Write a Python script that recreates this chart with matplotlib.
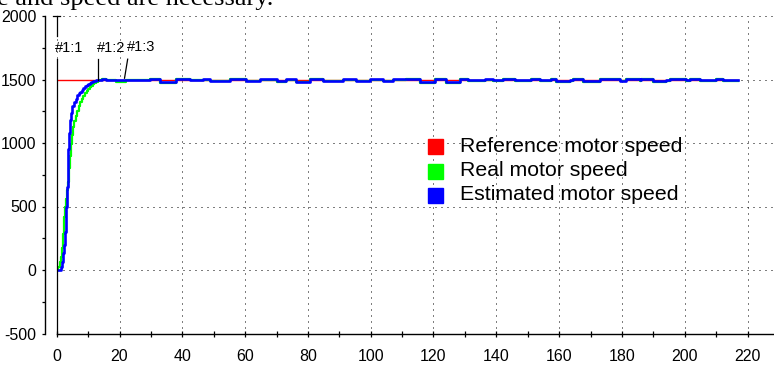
import matplotlib
matplotlib.use("Agg")
import matplotlib.pyplot as plt
from matplotlib.patches import Rectangle
from matplotlib.ticker import MultipleLocator

plt.rcParams["axes.unicode_minus"] = False

# series names for the legend
series_names = ["Reference motor speed", "Real motor speed", "Estimated motor speed"]
series_colors = ["#ff0000", "#00ff00", "#0000ff"]

# reference speed
ref_t = [0, 217]
ref_v = [1500, 1500]

# start-up of the estimated speed (blue)
est_rise_t = [0, 1, 1.3, 1.7, 2, 2.3, 2.6, 2.9, 3.1, 3.3, 3.5, 3.7, 3.9, 4.2, 4.5,
              5, 5.5, 6, 6.5, 7, 7.5, 8, 8.5, 9, 9.5, 10, 10.5, 11, 11.5, 12, 12.5, 13]
est_rise_v = [0, 0, 20, 60, 130, 200, 300, 420, 500, 650, 800, 950, 1080, 1180, 1240,
              1290, 1325, 1350, 1375, 1390, 1405, 1420, 1432, 1445, 1455, 1466, 1473,
              1480, 1486, 1492, 1496, 1500]

# start-up of the real speed (green)
real_rise_t = [0, 0.5, 1, 1.5, 1.8, 2.1, 2.4, 2.7, 3, 3.3, 3.6, 3.9, 4.2, 4.5, 4.8,
               5.2, 5.6, 6, 6.5, 7, 7.5, 8, 8.5, 9, 9.5, 10, 10.5, 11, 11.5, 12,
               12.5, 13, 13.5, 14]
real_rise_v = [0, 25, 60, 105, 170, 280, 420, 500, 560, 630, 690, 800, 900, 990, 1060,
               1125, 1170, 1210, 1250, 1290, 1320, 1345, 1370, 1390, 1408, 1425, 1438,
               1450, 1462, 1472, 1482, 1490, 1496, 1500]

# steady state, breakpoints and levels
ss_t = [14.3, 15.8, 19.0, 22.2, 29.6, 32.8, 38.1, 42.3, 46.6, 48.7,
        55.1, 60.4, 64.6, 70.0, 73.1, 76.3, 80.6, 84.8, 91.2, 95.4,
        99.7, 103.9, 107.1, 111.3, 115.6, 120.4, 124.1, 128.3, 131.0, 136.3,
        139.0, 142.1, 145.8, 151.2, 153.8, 157.5, 159.1, 163.4, 164.4, 167.6,
        173.0, 179.3, 181.4, 185.7, 186.2, 189.9, 194.2, 195.2, 200.5, 201.6,
        204.8, 210.1, 212.2, 217.0]
est_ss_v = [1506, 1496, 1494, 1496, 1506, 1484, 1506, 1496, 1504, 1490,
            1506, 1492, 1504, 1486, 1504, 1484, 1506, 1492, 1504, 1492,
            1504, 1490, 1504, 1506, 1480, 1506, 1482, 1506, 1496, 1502,
            1496, 1506, 1496, 1506, 1496, 1506, 1490, 1496, 1506, 1490,
            1506, 1490, 1506, 1496, 1506, 1486, 1496, 1506, 1496, 1506,
            1496, 1506, 1496, 1496]
real_ss_v = [1502, 1494, 1484, 1494, 1502, 1476, 1502, 1494, 1500, 1486,
             1502, 1486, 1500, 1480, 1500, 1478, 1502, 1488, 1500, 1488,
             1500, 1486, 1500, 1502, 1474, 1502, 1476, 1502, 1492, 1498,
             1492, 1502, 1492, 1502, 1492, 1502, 1482, 1492, 1502, 1480,
             1502, 1486, 1502, 1492, 1502, 1480, 1492, 1502, 1492, 1502,
             1492, 1502, 1492, 1492]

x_ticks = list(range(0, 221, 20))
y_ticks = [-500, 0, 500, 1000, 1500, 2000]

W, H = 774, 365


def fx(x):
    return x / W


def fy(y):
    return 1 - y / H


fig = plt.figure(figsize=(W / 100, H / 100), dpi=100)
ax = fig.add_axes([fx(56.7), fy(333.5), fx(W - 56.7), (333.5 - 16) / H])

tick_family = ["Liberation Sans Narrow", "Liberation Sans"]

dots = (0, (1, 5))
ax.grid(True, which="major", color="black", linestyle=dots, linewidth=0.72)
ax.set_axisbelow(True)

ax.plot(ref_t, ref_v, color=series_colors[0], lw=1.0, zorder=3)
ax.plot(real_rise_t + ss_t, real_rise_v + real_ss_v, color=series_colors[1],
        lw=1.6, drawstyle="steps-post", zorder=4)
ax.plot(est_rise_t + ss_t, est_rise_v + est_ss_v, color=series_colors[2],
        lw=1.9, drawstyle="steps-post", zorder=5)

# cursors
cur = dict(color="black", lw=0.9, zorder=6, clip_on=False)
ax.plot([0, 0], [2000, 1845], **cur)
ax.plot([-1.1, 1.1], [2000, 2000], **cur)
ax.plot([0, 0], [1664, -500], **cur)
ax.plot([13.2, 13.2], [1664, 1500], **cur)
ax.plot([22.6, 21.6], [1660, 1510], **cur)
lab = dict(fontsize=10.5, family="Liberation Sans", va="center", ha="left", zorder=7)
ax.text(-0.5, 1745, "#1:1", **lab)
ax.text(12.7, 1745, "#1:2", **lab)
ax.text(22.4, 1758, "#1:3", **lab)

ax.set_xlim(0, (W - 56.7) / 3.14)
ax.set_ylim(-500, 2000)
ax.set_xticks(x_ticks)
ax.set_yticks(y_ticks)
ax.xaxis.set_minor_locator(MultipleLocator(10))
ax.yaxis.set_minor_locator(MultipleLocator(250))

for s in ["top", "right"]:
    ax.spines[s].set_visible(False)
ax.spines["left"].set_position(("outward", 8.4))
ax.spines["left"].set_linewidth(1.0)
ax.spines["bottom"].set_linewidth(1.0)

ax.tick_params(axis="x", which="both", direction="inout", length=5, width=0.9, pad=9)
ax.tick_params(axis="y", which="both", direction="out", length=2.4, width=0.9, pad=3.6)
for t in ax.get_xticklabels() + ax.get_yticklabels():
    t.set_fontfamily(tick_family)
    t.set_fontsize(11.5)

# legend drawn by hand
rows = [146.7, 171, 195]
for name, col, yc in zip(series_names, series_colors, rows):
    fig.patches.append(Rectangle((fx(428), fy(yc + 7.5)), 15 / W, 15 / H,
                                 transform=fig.transFigure, color=col, zorder=8))
    fig.text(fx(460), fy(yc), name, fontsize=15.3, family="Liberation Sans",
             va="center", ha="left", zorder=8)

# clipped document text above the chart
fig.text(fx(-3), fy(5), "e and speed are necessary.", fontsize=19,
         family="Liberation Serif", va="baseline", ha="left")

fig.savefig("out.png", dpi=100)
